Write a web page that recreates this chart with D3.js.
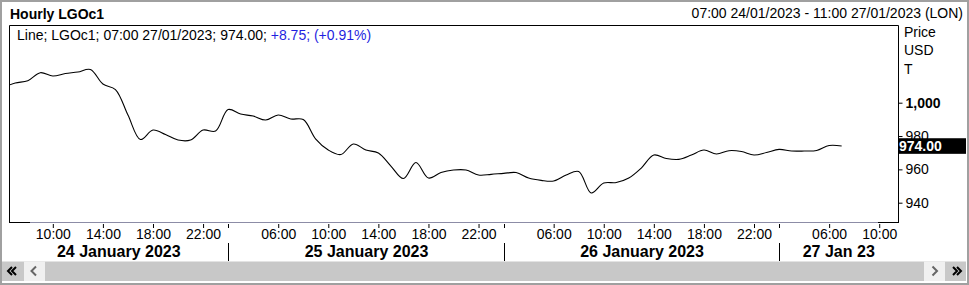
<!DOCTYPE html>
<html>
<head>
<meta charset="utf-8">
<script src="https://cdn.jsdelivr.net/npm/d3@7"></script>
<style>
  html, body { margin: 0; padding: 0; background: #fff; }
  svg { display: block; font-family: "Liberation Sans", Arial, sans-serif; }
</style>
</head>
<body>
<svg id="main-svg"></svg>
<script>
// --- data (hourly LGOc1 closes, USD/T) ---
var dayNames = ["24 January 2023", "25 January 2023", "26 January 2023", "27 Jan 23"];
var sessionStart = 2; // first hourly bar of each session
var sessionEnd = 23;  // last hourly bar of each session
var labelHours = [6, 10, 14, 18, 22];
var firstHours = [6, 2, 2, 2];
// 24 Jan 06:00 .. 23:00
var jan24 = [1009.1, 1011.8, 1013.2, 1018.0, 1016.0, 1017.5, 1018.4, 1019.9, 1011.2, 1007.9,
  992.6, 977.9, 983.6, 980.9, 977.6, 977.6, 983.6, 983.0];
// 25 Jan 02:00 .. 23:00
var jan25 = [995.9, 993.2, 992.0, 989.6, 992.6, 990.2, 989.9, 978.2, 971.6, 968.9, 975.2,
  971.6, 969.8, 962.0, 954.5, 964.1, 954.8, 958.1, 959.6, 959.6, 956.6, 957.0];
// 26 Jan 02:00 .. 23:00
var jan26 = [957.6, 958.1, 954.8, 953.4, 953.0, 956.6, 958.7, 945.8, 951.8, 952.1, 954.8,
  960.8, 968.6, 966.5, 966.0, 968.6, 971.6, 969.2, 971.2, 970.7, 968.6, 970.1];
// 27 Jan 02:00 .. 07:00
var jan27 = [972.0, 971.0, 971.0, 971.3, 974.3, 974.0];
var yTicks = [940, 960, 980, 1000];
var lastPrice = 974.00;

var width = 969,
  height = 285,
  plotL = 9,
  plotR = 898,
  plotT = 25,
  plotB = 222;

var perDay = sessionEnd - sessionStart + 1;
function slotOf(d, h) { return d * perDay + (h - sessionStart) }

var startSlot = slotOf(0, 7),
  endSlot = slotOf(3, 11);

var x = d3.scaleLinear().domain([startSlot - 0.5, endSlot + 0.5]).range([plotL, plotR]);
var y = d3.scaleLinear().domain([1000, 940]).range([102.7, 202.7]);

var points = [];
[jan24, jan25, jan26, jan27].forEach(function (arr, d) {
  arr.forEach(function (v, i) { points.push([slotOf(d, firstHours[d] + i), v]) })
});

var svg = d3.select("#main-svg").attr("width", width).attr("height", height);

// outer frame
svg.append("rect").attr("x", 1).attr("y", 1).attr("width", width - 2).attr("height", height - 2)
  .attr("fill", "#fff").attr("stroke", "#a0a0a0").attr("stroke-width", 2);

// header
svg.append("text").attr("x", 10).attr("y", 19).attr("font-size", 14).attr("font-weight", "bold")
  .text("Hourly LGOc1");
svg.append("text").attr("x", 963).attr("y", 18).attr("font-size", 14).attr("text-anchor", "end")
  .text("07:00 24/01/2023 - 11:00 27/01/2023 (LON)");

// clip + line
svg.append("clipPath").attr("id", "plot-clip").append("rect")
  .attr("x", plotL + 1).attr("y", plotT).attr("width", plotR - plotL - 1).attr("height", plotB - plotT);

svg.append("path").datum(points)
  .attr("clip-path", "url(#plot-clip)")
  .attr("fill", "none").attr("stroke", "#000").attr("stroke-width", 1.1)
  .attr("d", d3.line().x(function (p) { return x(p[0]) }).y(function (p) { return y(p[1]) })
    .curve(d3.curveCatmullRom.alpha(0.5)));

// legend
var leg = svg.append("text").attr("x", 17).attr("y", 39.5).attr("font-size", 14);
leg.append("tspan").text("Line; LGOc1; 07:00 27/01/2023; " + lastPrice.toFixed(2) + "; ");
leg.append("tspan").attr("fill", "#1f1fe0").text("+8.75; (+0.91%)");

// plot frame (bottom is grey in the middle)
svg.append("path").attr("fill", "none").attr("stroke", "#000")
  .attr("d", "M" + (plotL + 0.5) + "," + plotB + "V" + (plotT + 0.5) + "H" + (plotR + 0.5) + "V" + (plotB + 0.5));
svg.append("line").attr("x1", plotL).attr("x2", plotR).attr("y1", plotB + 0.5).attr("y2", plotB + 0.5)
  .attr("stroke", "#8c8ca6");
svg.append("line").attr("x1", plotL).attr("x2", 30).attr("y1", plotB + 0.5).attr("y2", plotB + 0.5).attr("stroke", "#000");
svg.append("line").attr("x1", 878).attr("x2", plotR + 1).attr("y1", plotB + 0.5).attr("y2", plotB + 0.5).attr("stroke", "#000");

// y axis
var yAxis = svg.append("g").attr("transform", "translate(" + (plotR + 0.5) + ",0)")
  .call(d3.axisRight(y).tickValues(yTicks).tickSize(4).tickPadding(3).tickFormat(d3.format(",")));
yAxis.select(".domain").remove();
yAxis.selectAll("line").attr("stroke", "#000");
yAxis.selectAll("text").attr("font-size", 14).attr("font-family", "Liberation Sans, Arial, sans-serif")
  .attr("fill", "#000").attr("font-weight", function (d) { return d === 1000 ? "bold" : null });

["Price", "USD", "T"].forEach(function (t, i) {
  svg.append("text").attr("x", 904).attr("y", 37 + i * 18.3).attr("font-size", 14).text(t)
});

// last price tag
svg.append("rect").attr("x", plotR).attr("y", y(lastPrice) - 7.8).attr("width", 966 - plotR).attr("height", 15.6)
  .attr("fill", "#000");
svg.append("text").attr("x", plotR + 1).attr("y", y(lastPrice)).attr("dy", "0.36em")
  .attr("font-size", 14).attr("font-weight", "bold").attr("fill", "#fff").text(lastPrice.toFixed(2));

// x axis: hour ticks
var hourTicks = [];
dayNames.forEach(function (n, d) {
  labelHours.forEach(function (h) {
    var s = slotOf(d, h);
    if (s >= startSlot && s <= endSlot) hourTicks.push({ s: s, h: h })
  })
});
var xAxis = svg.append("g").attr("transform", "translate(0," + (plotB + 2) + ")")
  .call(d3.axisBottom(x).tickValues(hourTicks.map(function (t) { return t.s }))
    .tickSize(4).tickPadding(1.5)
    .tickFormat(function (s) {
      var t = hourTicks.find(function (k) { return k.s === s });
      return (t.h < 10 ? "0" : "") + t.h + ":00"
    }));
xAxis.select(".domain").remove();
xAxis.selectAll("line").attr("stroke", "#000");
xAxis.selectAll("text").attr("font-size", 14).attr("font-family", "Liberation Sans, Arial, sans-serif").attr("fill", "#000");

// day separators + day labels
var bounds = [x.range()[0]];
dayNames.forEach(function (n, d) {
  if (d === 0) return;
  var px = Math.round(x(slotOf(d, sessionStart))) + 0.5;
  bounds.push(px);
  svg.append("line").attr("x1", px).attr("x2", px).attr("y1", plotB + 2).attr("y2", plotB + 6).attr("stroke", "#000");
  svg.append("line").attr("x1", px).attr("x2", px).attr("y1", 243).attr("y2", 261).attr("stroke", "#000");
});
bounds.push(x.range()[1]);
dayNames.forEach(function (n, d) {
  svg.append("text").attr("x", (bounds[d] + bounds[d + 1]) / 2).attr("y", 256.5)
    .attr("text-anchor", "middle").attr("font-size", 16).attr("font-weight", "bold").text(n)
});

// scrollbar
svg.append("rect").attr("x", 2).attr("y", 261.5).attr("width", 964).attr("height", 19.5).attr("fill", "#c8c8c8");
svg.append("rect").attr("x", 24).attr("y", 261.5).attr("width", 21).attr("height", 19.5).attr("fill", "#f0f0f0");
svg.append("rect").attr("x", 924).attr("y", 261.5).attr("width", 21).attr("height", 19.5).attr("fill", "#f0f0f0");
svg.append("path").attr("fill", "none").attr("stroke", "#000").attr("stroke-width", 2)
  .attr("d", "M12,267l-4,4l4,4M16,267l-4,4l4,4M953,267l4,4l-4,4M957,267l4,4l-4,4");
svg.append("path").attr("fill", "none").attr("stroke", "#666").attr("stroke-width", 2)
  .attr("d", "M36,266.5l-4.5,4.5l4.5,4.5M932.5,266.5l4.5,4.5l-4.5,4.5");
</script>
</body>
</html>
